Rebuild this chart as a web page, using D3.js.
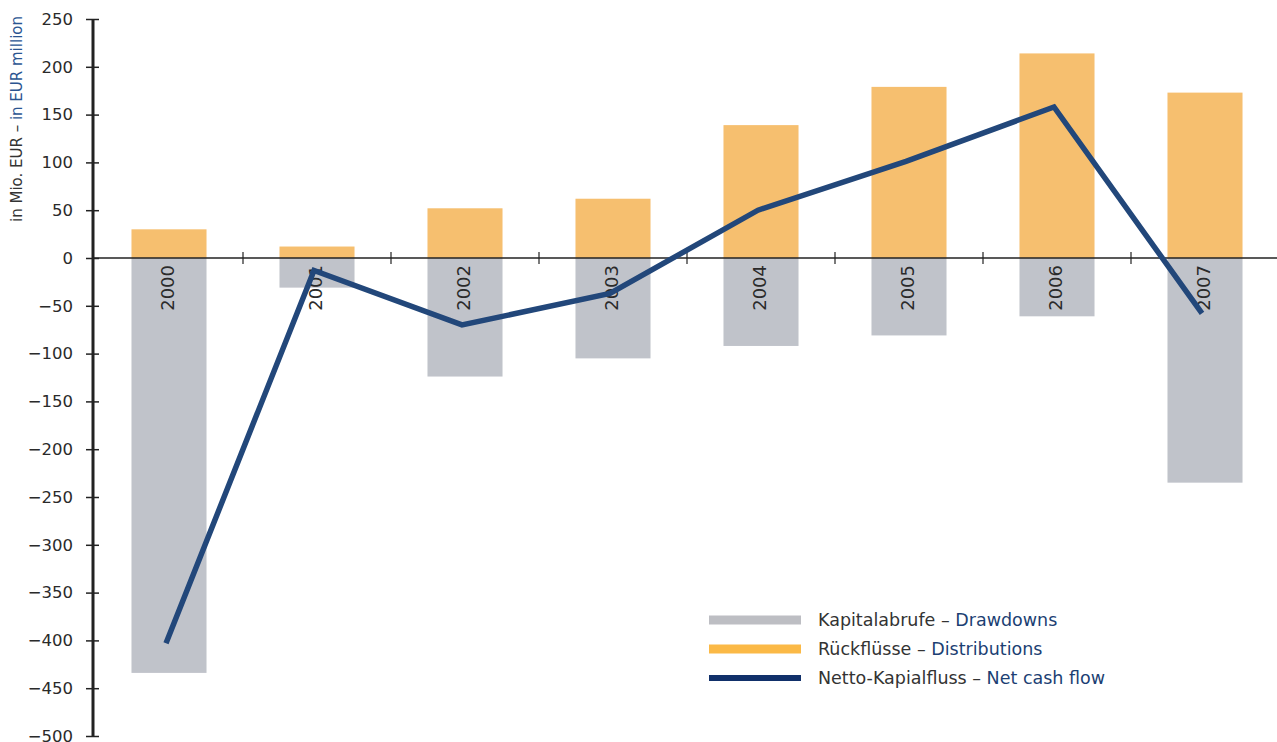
<!DOCTYPE html>
<html>
<head>
<meta charset="utf-8">
<script src="https://cdn.jsdelivr.net/npm/d3@7"></script>
<style>
  body { margin: 0; background: #fff; }
  text { font-family: "DejaVu Sans", Verdana, sans-serif; }
</style>
</head>
<body>
<div id="chart"></div>
<script>
// values in EUR million
var years = ["2000", "2001", "2002", "2003", "2004", "2005", "2006", "2007"];
var distributions = [30, 12, 52, 62, 139, 179, 214, 173];
var drawdowns = [-434, -31, -124, -105, -92, -81, -61, -235];
var netFlow = [-403, -13, -70, -37, 50, 101, 158, -58];
var yTicks = [250, 200, 150, 100, 50, 0, -50, -100, -150, -200, -250, -300, -350, -400, -450, -500];

var legendItems = [
  { de: "Kapitalabrufe", en: "Drawdowns", color: "#bdbec3", w: 9 },
  { de: "Rückflüsse", en: "Distributions", color: "#fbb946", w: 9 },
  { de: "Netto-Kapialfluss", en: "Net cash flow", color: "#11306a", w: 6 }
];

var svgWidth = 1277;
var svgHeight = 742;

var svg = d3.select("#chart")
  .append("svg")
  .attr("width", svgWidth)
  .attr("height", svgHeight);

var xBand = d3.scaleBand()
  .domain(years)
  .range([95, 95 + 8 * 148])
  .paddingInner(0.493)
  .paddingOuter(0.2465);

var y = d3.scaleLinear()
  .domain([-500, 250])
  .range([736, 19]);

var rows = years.map(function(yr, i) {
  return { year: yr, dist: distributions[i], draw: drawdowns[i], net: netFlow[i] };
});

// drawdown bars (below zero)
svg.selectAll("rect.draw")
  .data(rows)
  .enter()
  .append("rect")
  .attr("class", "draw")
  .attr("x", d => xBand(d.year))
  .attr("width", xBand.bandwidth())
  .attr("y", y(0))
  .attr("height", d => y(d.draw) - y(0))
  .attr("fill", "#c0c3ca");

// distribution bars
svg.selectAll("rect.dist")
  .data(rows)
  .enter()
  .append("rect")
  .attr("class", "dist")
  .attr("x", d => xBand(d.year))
  .attr("width", xBand.bandwidth())
  .attr("y", d => y(d.dist))
  .attr("height", d => y(0) - y(d.dist))
  .attr("fill", "#f6bf6f");

// year labels inside bars
svg.selectAll("text.year")
  .data(rows)
  .enter()
  .append("text")
  .attr("class", "year")
  .attr("transform", d => `translate(${xBand(d.year) + xBand.bandwidth() / 2 - 1}, 265) rotate(-90)`)
  .attr("dy", "0.36em")
  .attr("text-anchor", "end")
  .attr("font-size", "18px")
  .attr("fill", "#2a2a2a")
  .text(d => d.year);

// x axis line + category ticks
var xAxis = d3.axisBottom(xBand).tickSize(0).tickFormat("");
var xg = svg.append("g")
  .attr("transform", `translate(0, ${y(0)})`)
  .call(xAxis);
xg.select(".domain")
  .attr("d", `M93,0H${svgWidth}`)
  .attr("stroke", "#222")
  .attr("stroke-width", 1.5);

svg.selectAll("line.xtick")
  .data(years.slice(1))
  .enter()
  .append("line")
  .attr("class", "xtick")
  .attr("x1", d => xBand(d) - xBand.step() * xBand.paddingInner() / 2)
  .attr("x2", d => xBand(d) - xBand.step() * xBand.paddingInner() / 2)
  .attr("y1", y(0) - 6)
  .attr("y2", y(0) + 6)
  .attr("stroke", "#222")
  .attr("stroke-width", 1.2);

// net cash flow line
var line = d3.line()
  .x(d => xBand(d.year) + xBand.bandwidth() / 2 - 3)
  .y(d => y(d.net));

svg.append("path")
  .datum(rows)
  .attr("d", line)
  .attr("fill", "none")
  .attr("stroke", "#22477a")
  .attr("stroke-width", 5.5)
  .attr("stroke-linejoin", "miter");

// y axis
var yAxis = d3.axisLeft(y)
  .tickValues(yTicks)
  .tickSize(13)
  .tickPadding(13)
  .tickFormat(d3.format("d"));

var yg = svg.append("g")
  .attr("transform", "translate(99, 0)")
  .call(yAxis);
yg.select(".domain").remove();
yg.selectAll(".tick line").attr("stroke", "#222").attr("stroke-width", 1.5);
yg.selectAll(".tick text")
  .attr("font-size", "16.5px")
  .attr("font-family", "DejaVu Sans, Verdana, sans-serif")
  .attr("fill", "#2a2a2a");

svg.append("line")
  .attr("x1", 93).attr("x2", 93)
  .attr("y1", y(250)).attr("y2", y(-500))
  .attr("stroke", "#222")
  .attr("stroke-width", 3);

// y axis title
var yTitle = svg.append("text")
  .attr("transform", "translate(22, 222) rotate(-90)")
  .attr("font-size", "15px")
  .attr("text-anchor", "start");
yTitle.append("tspan").attr("fill", "#333").text("in Mio. EUR – ");
yTitle.append("tspan").attr("fill", "#2b5591").text("in EUR million");

// legend
var legend = svg.selectAll("g.legend")
  .data(legendItems)
  .enter()
  .append("g")
  .attr("class", "legend")
  .attr("transform", (d, i) => `translate(709, ${620 + i * 29})`);

legend.append("line")
  .attr("x1", 0).attr("x2", 92)
  .attr("y1", 0).attr("y2", 0)
  .attr("stroke", d => d.color)
  .attr("stroke-width", d => d.w);

var lt = legend.append("text")
  .attr("x", 109)
  .attr("dy", "0.36em")
  .attr("font-size", "17.5px");
lt.append("tspan").attr("fill", "#333").text(d => d.de + " – ");
lt.append("tspan").attr("fill", "#1c3f73").text(d => d.en);
</script>
</body>
</html>
